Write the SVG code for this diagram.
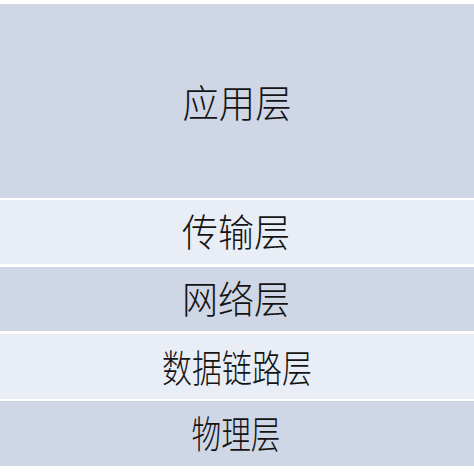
<svg xmlns="http://www.w3.org/2000/svg" width="474" height="474" viewBox="0 0 474 474">
<style>
.dark{fill:#cfd6e6}
.light{fill:#e9edf5}
.lbl{font-family:"Noto Sans CJK SC","Noto Sans CJK JP",sans-serif;font-size:38px;fill:#141414;text-anchor:middle;dominant-baseline:central;font-weight:300}
</style>
<rect x="0" y="0" width="474" height="474" fill="#ffffff"/>
<g id="app">
<rect class="dark" x="0" y="4" width="474" height="194"/>
<text class="lbl" x="237" y="100" textLength="109" lengthAdjust="spacingAndGlyphs">应用层</text>
</g>
<g id="transport">
<rect class="light" x="0" y="200" width="474" height="64"/>
<text class="lbl" x="236" y="229" textLength="108" lengthAdjust="spacingAndGlyphs">传输层</text>
</g>
<g id="network">
<rect class="dark" x="0" y="267" width="474" height="64"/>
<text class="lbl" x="236" y="296" textLength="108" lengthAdjust="spacingAndGlyphs">网络层</text>
</g>
<g id="datalink">
<rect class="light" x="0" y="334" width="474" height="65"/>
<text class="lbl" x="237" y="365" textLength="150" lengthAdjust="spacingAndGlyphs">数据链路层</text>
</g>
<g id="physical">
<rect class="dark" x="0" y="401" width="474" height="65"/>
<text class="lbl" x="236" y="431" textLength="89" lengthAdjust="spacingAndGlyphs">物理层</text>
</g>
<g id="connectors"></g>
</svg>
